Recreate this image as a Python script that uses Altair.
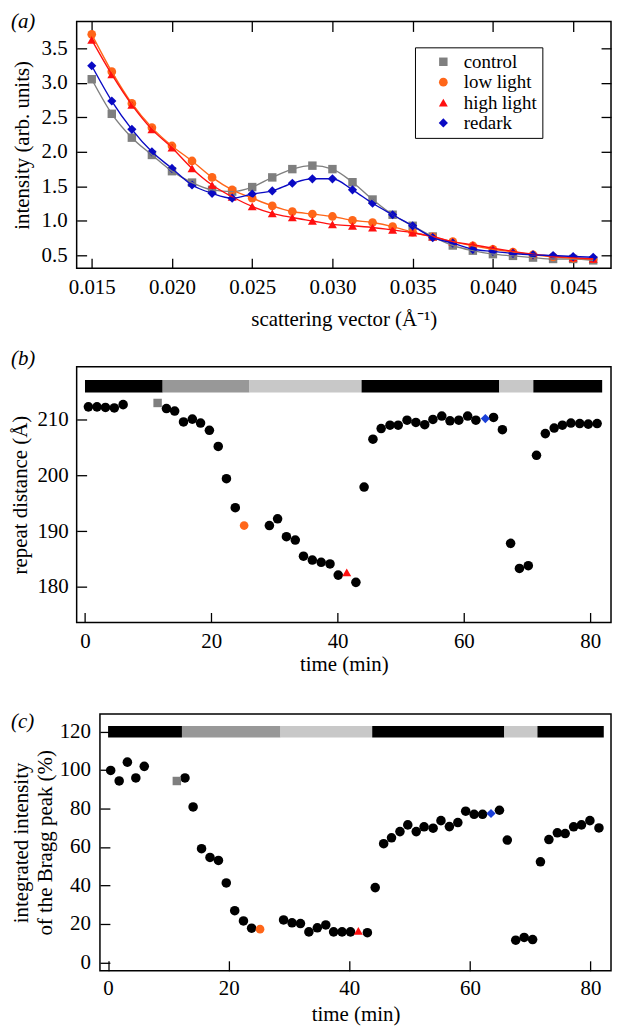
import altair as alt
import pandas as pd

FONT = "Liberation Serif"
FS = 21

# ---------------- panel (a): scattering curves ----------------
q_vals = [0.01500, 0.01625, 0.01750, 0.01875, 0.02000, 0.02125, 0.02250, 0.02375,
          0.02500, 0.02625, 0.02750, 0.02875, 0.03000, 0.03125, 0.03250, 0.03375,
          0.03500, 0.03625, 0.03750, 0.03875, 0.04000, 0.04125, 0.04250, 0.04375,
          0.04500, 0.04625]
control = [3.05, 2.55, 2.205, 1.955, 1.72, 1.555, 1.45, 1.425, 1.49, 1.63, 1.75, 1.80,
           1.75, 1.56, 1.31, 1.09, 0.93, 0.775, 0.645, 0.57, 0.52, 0.495, 0.47, 0.45,
           0.45, 0.43]
low_light = [3.70, 3.16, 2.70, 2.35, 2.085, 1.868, 1.63, 1.449, 1.33, 1.218, 1.136, 1.10,
             1.065, 1.01, 0.977, 0.919, 0.837, 0.77, 0.70, 0.64, 0.59, 0.55, 0.51, 0.48,
             0.46, 0.45]
high_light = [3.62, 3.12, 2.68, 2.325, 2.06, 1.76, 1.52, 1.35, 1.21, 1.11, 1.05, 1.00,
              0.95, 0.93, 0.905, 0.87, 0.83, 0.775, 0.70, 0.655, 0.605, 0.56, 0.52, 0.49,
              0.47, 0.45]
redark = [3.245, 2.735, 2.325, 2.00, 1.76, 1.52, 1.40, 1.33, 1.39, 1.435, 1.545, 1.61,
          1.61, 1.45, 1.256, 1.09, 0.93, 0.76, 0.68, 0.59, 0.56, 0.53, 0.51, 0.50,
          0.485, 0.475]
series_names = ["control", "low light", "high light", "redark"]
x_ticks_a = [0.015, 0.020, 0.025, 0.030, 0.035, 0.040, 0.045]
y_ticks_a = [0.5, 1.0, 1.5, 2.0, 2.5, 3.0, 3.5]

# ---------------- panel (b): repeat distance ----------------
time_b = [0.54, 1.9, 3.24, 4.64, 6.04, 12.9, 14.2, 15.6, 17.0, 18.3, 19.7, 21.1, 22.4,
          23.8, 29.2, 30.5, 31.9, 33.3, 34.6, 36.0, 37.4, 38.8, 40.1, 42.9, 44.2, 45.6,
          46.9, 48.3, 49.6, 51.0, 52.4, 53.8, 55.1, 56.5, 57.8, 59.2, 60.6, 61.9, 64.7,
          66.1, 67.4, 68.8, 70.2, 71.5, 72.9, 74.3, 75.6, 76.95, 78.35, 79.7, 81.1]
dist_b = [212.3, 212.3, 212.2, 212.1, 212.7, 212.0, 211.55, 209.6, 210.1, 209.4, 208.1,
          205.2, 199.4, 194.2, 191.0, 192.2, 189.0, 188.4, 185.5, 184.8, 184.4, 184.1,
          182.1, 180.8, 197.9, 206.5, 208.4, 209.0, 209.0, 209.9, 209.5, 209.1, 210.05,
          210.65, 209.8, 209.9, 210.65, 209.9, 210.4, 208.2, 187.8, 183.3, 183.8, 203.6,
          207.5, 208.5, 209.0, 209.4, 209.3, 209.2, 209.3]
hl_time_b = [11.5, 25.2, 41.45, 63.4]
hl_dist_b = [213.0, 191.0, 182.6, 210.2]
bar_start_b = [0.0, 12.3, 26.05, 43.8, 65.6, 71.0]
bar_end_b = [12.3, 26.05, 43.8, 65.6, 71.0, 81.9]
bar_shade_b = ["dark", "mid", "pale", "dark", "pale", "dark"]
y_ticks_b = [180, 190, 200, 210]
x_ticks_t = [0, 20, 40, 60, 80]

# ---------------- panel (c): integrated intensity ----------------
time_c = [0.43, 1.84, 3.2, 4.6, 6.0, 12.75, 14.1, 15.5, 16.9, 18.3, 19.6, 21.0, 22.45,
          23.8, 29.1, 30.5, 31.9, 33.3, 34.7, 36.1, 37.4, 38.8, 40.2, 43.0, 44.3, 45.7,
          47.0, 48.4, 49.7, 51.1, 52.4, 53.9, 55.2, 56.6, 58.0, 59.3, 60.7, 62.1, 64.9,
          66.2, 67.6, 69.0, 70.4, 71.7, 73.1, 74.5, 75.8, 77.2, 78.5, 79.9, 81.4]
inten_c = [99.8, 94.3, 104.1, 95.9, 101.9, 95.9, 80.8, 59.1, 54.6, 53.0, 41.3, 26.9, 21.6,
           17.8, 22.1, 20.6, 20.2, 15.9, 18.0, 19.5, 15.9, 15.9, 15.9, 15.5, 38.9, 61.7,
           64.8, 68.0, 71.5, 68.0, 70.5, 69.8, 73.7, 70.6, 72.7, 78.6, 77.0, 77.0, 79.1,
           63.6, 11.6, 13.0, 11.9, 52.3, 63.9, 67.4, 67.0, 70.5, 71.5, 73.7, 69.9]
hl_time_c = [11.4, 25.2, 41.5, 63.5]
hl_inten_c = [94.3, 17.3, 16.4, 77.4]
bar_start_c = [0.0, 12.25, 28.6, 43.8, 65.7, 71.2]
bar_end_c = [12.25, 28.6, 43.8, 65.7, 71.2, 82.2]
bar_shade_c = ["dark", "mid", "pale", "dark", "pale", "dark"]
y_ticks_c = [0, 20, 40, 60, 80, 100, 120]

# ---------------- styles ----------------
colors_a = ["#7f7f7f", "#ff6619", "#ff1010", "#0a0ac4"]
shapes = ["square", "circle", "triangle-up", "diamond"]
sizes_a = [72, 85, 100, 135]
colors_hl = ["#7f7f7f", "#ff6619", "#ff1010", "#1a3fd8"]
sizes_hl = [80, 100, 125, 155]
shade_names = ["dark", "mid", "pale"]
shade_colors = ["#000000", "#989898", "#c8c8c8"]

W = 537          # plot width shared by all panels
C_INSET = 23.4   # panel (c) frame starts this far right of the common plot edge


def inner_axis(values, fmt=None, title=None, lp=8, tp=8, orient=None,
               labels=True, tick=10, line_height=None, extra_offset=0, title_x=None):
    args = dict(values=values, tickSize=tick, offset=-tick - extra_offset, domain=False,
                grid=False, tickColor="black", tickWidth=1.3, title=title, minExtent=0)
    if labels:
        args.update(labelFont=FONT, labelFontSize=FS, labelColor="black",
                    labelPadding=lp, labelFlush=False, labelOverlap=False)
    else:
        args["labels"] = False
    if title is not None:
        args.update(titleFont=FONT, titleFontSize=FS, titleFontWeight="normal",
                    titleColor="black", titlePadding=tp)
    if line_height is not None:
        args["titleLineHeight"] = line_height
    if title_x is not None:
        args["titleX"] = title_x
    if fmt:
        args["format"] = fmt
    if orient:
        args["orient"] = orient
    return alt.Axis(**args)


def panel_label(text, x, y):
    return alt.Chart(pd.DataFrame({"lbl": [text]})).mark_text(
        font=FONT, fontSize=FS, fontStyle="italic", align="left",
        baseline="alphabetic", color="black"
    ).encode(text="lbl:N", x=alt.value(x), y=alt.value(y))


# ---------------- build panel (a) ----------------
rows = []
for name, vals in zip(series_names, [control, low_light, high_light, redark]):
    for qq, vv in zip(q_vals, vals):
        rows.append({"q": qq, "v": vv, "series": name})
df_a = pd.DataFrame(rows)

xs_a = alt.Scale(domain=[0.01406, 0.04736], nice=False, zero=False)
ys_a = alt.Scale(domain=[0.316, 3.886], nice=False, zero=False)

leg = alt.Legend(title=None, orient="none", legendX=340, legendY=26,
                 labelFont=FONT, labelFontSize=19, labelColor="black",
                 strokeColor="black", fillColor="white", padding=5,
                 rowPadding=0.5, symbolOffset=14, labelOffset=11,
                 symbolStrokeWidth=0, symbolSize=100)

pts_a = alt.Chart(df_a).mark_point(filled=True, opacity=1).encode(
    x=alt.X("q:Q", scale=xs_a,
            axis=inner_axis(x_ticks_a, ".3f", "scattering vector (Å⁻¹)", lp=8.5, tp=11)),
    y=alt.Y("v:Q", scale=ys_a,
            axis=inner_axis(y_ticks_a, ".1f", "intensity (arb. units)", lp=9.5, tp=9)),
    color=alt.Color("series:N", scale=alt.Scale(domain=series_names, range=colors_a), legend=leg),
    shape=alt.Shape("series:N", scale=alt.Scale(domain=series_names, range=shapes), legend=leg),
    size=alt.Size("series:N", scale=alt.Scale(domain=series_names, range=sizes_a), legend=None),
)
lines_a = alt.Chart(df_a).mark_line(interpolate="monotone", strokeWidth=1.4).encode(
    x=alt.X("q:Q", scale=xs_a, axis=None),
    y=alt.Y("v:Q", scale=ys_a, axis=None),
    stroke=alt.Stroke("series:N", scale=alt.Scale(domain=series_names, range=colors_a), legend=None),
)
mirror_a = alt.Chart(df_a).mark_point(opacity=0).encode(
    x=alt.X("q:Q", scale=xs_a, axis=inner_axis(x_ticks_a, orient="top", labels=False)),
    y=alt.Y("v:Q", scale=ys_a, axis=inner_axis(y_ticks_a, orient="right", labels=False)),
)
panel_a = alt.layer(pts_a, lines_a, mirror_a, panel_label("(a)", -66, 6.8)).resolve_axis(
    x="independent", y="independent").properties(width=W, height=248)


# ---------------- build time panels ----------------
def time_panel(times, vals, hl_t, hl_v, starts, ends, shades, dom_x, dom_y,
               bar_lo, bar_hi, yticks, ytitle, ylp, ytp, xlp, xtp, label, lx, ly,
               height, line_height=None, inset=0, frame_x=None):
    xs = alt.Scale(domain=dom_x, nice=False, zero=False)
    ys = alt.Scale(domain=dom_y, nice=False, zero=False)
    df_bar = pd.DataFrame({"start": starts, "end": ends, "shade": shades})
    df_pts = pd.DataFrame({"t": times, "v": vals})
    df_hl = pd.DataFrame({"t": hl_t, "v": hl_v, "series": series_names})
    title_x = None
    if inset:
        title_x = inset + (W - inset) / 2
    pts = alt.Chart(df_pts).mark_circle(color="black", size=92, opacity=1).encode(
        x=alt.X("t:Q", scale=xs, axis=inner_axis(x_ticks_t, "d", "time (min)", lp=xlp,
                                                 tp=xtp, title_x=title_x)),
        y=alt.Y("v:Q", scale=ys, axis=inner_axis(yticks, "d", ytitle, lp=ylp, tp=ytp,
                                                 line_height=line_height,
                                                 extra_offset=inset)),
    )
    bar = alt.Chart(df_bar).mark_rect().encode(
        x=alt.X("start:Q", scale=xs, axis=None),
        x2="end:Q",
        y=alt.YDatum(bar_lo, type="quantitative", scale=ys, axis=None),
        y2=alt.datum(bar_hi),
        color=alt.Color("shade:N", scale=alt.Scale(domain=shade_names, range=shade_colors),
                        legend=None),
    )
    hl = alt.Chart(df_hl).mark_point(filled=True, opacity=1).encode(
        x=alt.X("t:Q", scale=xs, axis=None),
        y=alt.Y("v:Q", scale=ys, axis=None),
        color=alt.Color("series:N", scale=alt.Scale(domain=series_names, range=colors_hl),
                        legend=None),
        shape=alt.Shape("series:N", scale=alt.Scale(domain=series_names, range=shapes),
                        legend=None),
        size=alt.Size("series:N", scale=alt.Scale(domain=series_names, range=sizes_hl),
                      legend=None),
    )
    layers = [pts, bar, hl, panel_label(label, lx, ly)]
    props = dict(width=W, height=height)
    if frame_x is not None:
        frame = alt.Chart(pd.DataFrame({"k": [0]})).mark_rect(
            fillOpacity=0, stroke="black", strokeWidth=1.5
        ).encode(
            x=alt.XDatum(frame_x[0], type="quantitative", scale=xs, axis=None),
            x2=alt.datum(frame_x[1]),
            y=alt.YDatum(dom_y[0], type="quantitative", scale=ys, axis=None),
            y2=alt.datum(dom_y[1]),
        )
        layers.append(frame)
        props["view"] = alt.ViewBackground(strokeOpacity=0)
    return alt.layer(*layers).resolve_axis(x="independent", y="independent").resolve_scale(
        color="independent").properties(**props)


panel_b = time_panel(time_b, dist_b, hl_time_b, hl_dist_b, bar_start_b, bar_end_b,
                     bar_shade_b, [-1.32, 83.3], [173.6, 219.5], 214.9, 217.1,
                     y_ticks_b, "repeat distance (Å)", 8.5, 6.5, 7.7, 3,
                     "(b)", -66, -2.2, 257)

c_left, c_right = -1.35, 83.4
c_scale = (W - C_INSET) / (c_right - c_left)
panel_c = time_panel(time_c, inten_c, hl_time_c, hl_inten_c, bar_start_c, bar_end_c,
                     bar_shade_c, [c_left - C_INSET / c_scale, c_right], [-4.3, 129.1],
                     116.9, 122.9, y_ticks_c,
                     ["integrated intensity", "of the Bragg peak (%)"],
                     9.5, 4, 7, 5, "(c)", -66, 13.8, 258, line_height=24,
                     inset=C_INSET, frame_x=[c_left, c_right])

top = alt.vconcat(panel_a, panel_b, spacing=16)
chart = alt.vconcat(top, panel_c, spacing=34).properties(
    padding=0
).configure(font=FONT).configure_view(stroke="black", strokeWidth=1.5)

chart.save("out.html", embed_options={"renderer": "svg", "actions": False})
